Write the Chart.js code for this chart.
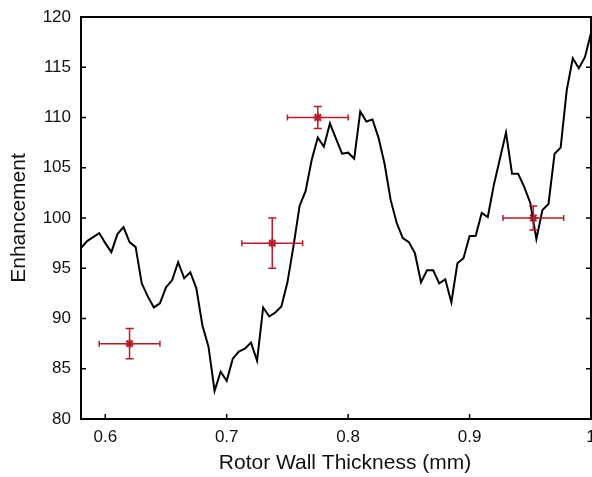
<!DOCTYPE html>
<html>
<head>
<meta charset="utf-8">
<script src="https://cdn.jsdelivr.net/npm/chart.js@4.4.1/dist/chart.umd.min.js"></script>
<style>
  html, body { margin: 0; padding: 0; background: #fff; overflow: hidden; }
  #wrap { width: 592px; height: 477px; }
  canvas { display: block; }
</style>
</head>
<body>
<div id="wrap"><canvas id="Chart" width="592" height="477"></canvas></div>
<script>
// simulated curve: wall thickness (mm) vs enhancement
const thickness = [
  0.580, 0.585, 0.590, 0.595, 0.600, 0.605, 0.610, 0.615, 0.620, 0.625,
  0.630, 0.635, 0.640, 0.645, 0.650, 0.655, 0.660, 0.665, 0.670, 0.675,
  0.680, 0.685, 0.690, 0.695, 0.700, 0.705, 0.710, 0.715, 0.720, 0.725,
  0.730, 0.735, 0.740, 0.745, 0.750, 0.755, 0.760, 0.765, 0.770, 0.775,
  0.780, 0.785, 0.790, 0.795, 0.800, 0.805, 0.810, 0.815, 0.820, 0.825,
  0.830, 0.835, 0.840, 0.845, 0.850, 0.855, 0.860, 0.865, 0.870, 0.875,
  0.880, 0.885, 0.890, 0.895, 0.900, 0.905, 0.910, 0.915, 0.920, 0.925,
  0.930, 0.935, 0.940, 0.945, 0.950, 0.955, 0.960, 0.965, 0.970, 0.975,
  0.980, 0.985, 0.990, 0.995, 1.000
];
const enhancement = [
  97.0, 97.7, 98.1, 98.5, 97.5, 96.6, 98.4, 99.1, 97.6, 97.1,
  93.5, 92.2, 91.1, 91.5, 93.1, 93.8, 95.6, 94.0, 94.6, 93.0,
  89.3, 87.2, 82.8, 84.7, 83.8, 86.0, 86.7, 87.0, 87.6, 85.8,
  91.1, 90.2, 90.6, 91.2, 93.6, 97.2, 101.2, 102.7, 105.8, 108.0,
  107.1, 109.4, 107.9, 106.4, 106.5, 105.9, 110.6, 109.6, 109.8, 108.0,
  105.4, 101.8, 99.5, 98.0, 97.6, 96.5, 93.6, 94.8, 94.8, 93.5,
  93.9, 91.6, 95.5, 96.0, 98.2, 98.2, 100.5, 100.1, 103.3, 105.9,
  108.5, 104.4, 104.4, 103.1, 101.5, 97.9, 100.8, 101.4, 106.4, 107.0,
  112.7, 115.9, 114.9, 116.0, 118.4
];

// measured points with error bars
const measThickness = [0.62, 0.7375, 0.775, 0.9525];
const measEnh = [87.5, 97.5, 110, 100];
const measXErr = [0.025, 0.025, 0.025, 0.025];
const measYErr = [1.5, 2.5, 1.1, 1.2];

const xTicks = [0.6, 0.7, 0.8, 0.9, 1.0];
const yTicks = [80, 85, 90, 95, 100, 105, 110, 115, 120];

const red = '#b81d2a';
const fontFam = "'Liberation Sans', Arial, sans-serif";

let curve = thickness.map((t, i) => ({x: t, y: enhancement[i]}));
let meas = measThickness.map((t, i) => ({x: t, y: measEnh[i]}));

// frame + inward ticks + error bars + x title
const extras = {
  id: 'extras',
  afterDatasetsDraw(chart) {
    const ctx = chart.ctx;
    const xs = chart.scales.x, ys = chart.scales.y;
    const a = chart.chartArea;
    ctx.save();

    // error bars
    ctx.strokeStyle = red;
    ctx.lineWidth = 1.5;
    for (let i = 0; i < measThickness.length; i++) {
      let x0 = xs.getPixelForValue(measThickness[i] - measXErr[i]);
      let x1 = xs.getPixelForValue(measThickness[i] + measXErr[i]);
      let y0 = ys.getPixelForValue(measEnh[i] - measYErr[i]);
      let y1 = ys.getPixelForValue(measEnh[i] + measYErr[i]);
      let xc = xs.getPixelForValue(measThickness[i]);
      let yc = ys.getPixelForValue(measEnh[i]);
      ctx.beginPath();
      ctx.moveTo(x0, yc); ctx.lineTo(x1, yc);
      ctx.moveTo(x0, yc - 3); ctx.lineTo(x0, yc + 3);
      ctx.moveTo(x1, yc - 3); ctx.lineTo(x1, yc + 3);
      ctx.moveTo(xc, y0); ctx.lineTo(xc, y1);
      ctx.moveTo(xc - 4, y0); ctx.lineTo(xc + 4, y0);
      ctx.moveTo(xc - 4, y1); ctx.lineTo(xc + 4, y1);
      ctx.stroke();
    }

    // box
    ctx.strokeStyle = '#000';
    ctx.lineWidth = 2;
    ctx.strokeRect(a.left, a.top, a.right - a.left, a.bottom - a.top);

    // inward ticks
    ctx.lineWidth = 1.5;
    ctx.beginPath();
    xTicks.forEach(v => {
      let px = xs.getPixelForValue(v);
      ctx.moveTo(px, a.bottom); ctx.lineTo(px, a.bottom - 5);
    });
    yTicks.forEach(v => {
      let py = ys.getPixelForValue(v);
      ctx.moveTo(a.left, py); ctx.lineTo(a.left + 5, py);
      ctx.moveTo(a.right, py); ctx.lineTo(a.right - 5, py);
    });
    ctx.stroke();

    // x axis title
    ctx.fillStyle = '#111';
    ctx.font = '21px ' + fontFam;
    ctx.textAlign = 'center';
    ctx.textBaseline = 'middle';
    ctx.fillText('Rotor Wall Thickness (mm)', 345, 463);
    ctx.restore();
  }
};

let ctx = document.getElementById('Chart').getContext('2d');
let myChart = new Chart(ctx, {
  type: 'line',
  data: {
    datasets: [{
      label: 'Simulation',
      data: curve,
      borderColor: '#000',
      borderWidth: 2,
      pointRadius: 0,
      tension: 0,
      fill: false
    }, {
      label: 'Measured',
      data: meas,
      showLine: false,
      pointStyle: 'star',
      pointRadius: 4.5,
      pointBorderWidth: 2,
      pointBorderColor: red,
      pointBackgroundColor: red
    }]
  },
  options: {
    responsive: false,
    animation: false,
    layout: { padding: { top: 17, right: 1, left: 0, bottom: 0 }, autoPadding: false },
    plugins: { legend: { display: false }, tooltip: { enabled: false } },
    scales: {
      x: {
        type: 'linear',
        min: 0.58,
        max: 1.0,
        afterBuildTicks: s => { s.ticks = xTicks.map(v => ({value: v})); },
        afterFit: s => { s.height = 58; s.paddingLeft = 0; s.paddingRight = 0; },
        grid: { display: false, drawTicks: false },
        border: { display: false },
        ticks: {
          padding: 8,
          maxRotation: 0,
          color: '#111',
          font: { family: fontFam, size: 17 },
          callback: v => String(v)
        }
      },
      y: {
        min: 80,
        max: 120,
        afterBuildTicks: s => { s.ticks = yTicks.map(v => ({value: v})); },
        afterFit: s => { s.width = 81; s.paddingTop = 0; s.paddingBottom = 0; },
        grid: { display: false, drawTicks: false },
        border: { display: false },
        ticks: {
          padding: 10,
          color: '#111',
          font: { family: fontFam, size: 17 }
        },
        title: {
          display: true,
          text: 'Enhancement',
          color: '#111',
          font: { family: fontFam, size: 21 },
          padding: { top: 7, bottom: 0 }
        }
      }
    }
  },
  plugins: [extras]
});
</script>
</body>
</html>
